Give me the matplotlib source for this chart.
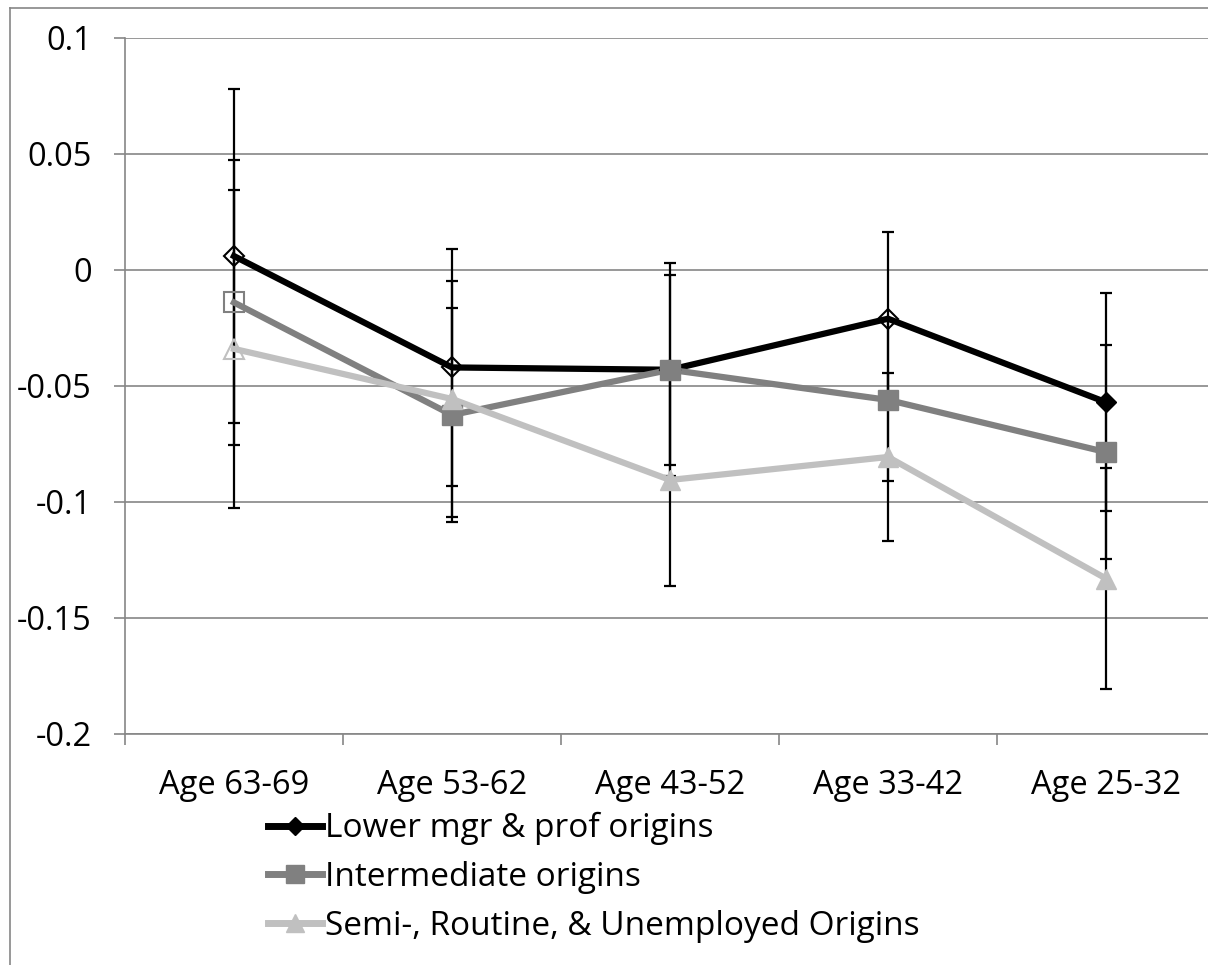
import matplotlib
matplotlib.use('Agg')
import matplotlib.pyplot as plt
from matplotlib.lines import Line2D
import numpy as np

plt.rcParams['font.family'] = ['Open Sans', 'DejaVu Sans']
plt.rcParams['axes.unicode_minus'] = False

# Data
age_groups = ['Age 63-69', 'Age 53-62', 'Age 43-52', 'Age 33-42', 'Age 25-32']
y_ticks = [0.1, 0.05, 0, -0.05, -0.1, -0.15, -0.2]
y_tick_labels = ['0.1', '0.05', '0', '-0.05', '-0.1', '-0.15', '-0.2']

lower_mgr = [0.006, -0.042, -0.043, -0.021, -0.057]
lower_mgr_err = [0.072, 0.051, 0.046, 0.0375, 0.047]
intermediate = [-0.014, -0.0625, -0.043, -0.056, -0.0785]
intermediate_err = [0.0615, 0.046, 0.041, 0.035, 0.046]
semi_routine = [-0.034, -0.0556, -0.0905, -0.0806, -0.133]
semi_routine_err = [0.0685, 0.051, 0.0455, 0.0364, 0.0476]

# filled marker = interval excludes zero
series = [
    ('Lower mgr & prof origins', lower_mgr, lower_mgr_err, '#000000', 'D', 10),
    ('Intermediate origins', intermediate, intermediate_err, '#808080', 's', 14),
    ('Semi-, Routine, & Unemployed Origins', semi_routine, semi_routine_err, '#c0c0c0', '^', 15),
]

fig = plt.figure(figsize=(12.08, 9.65), dpi=100)
ax = fig.add_axes([125/1208, 1 - 734/965, 1090/1208, 696/965])

x = np.arange(len(age_groups))
grid_col = '#868686'

for name, vals, err, col, mk, ms in series:
    vals = np.array(vals)
    err = np.array(err)
    ax.errorbar(x, vals, yerr=err, fmt='none', ecolor='black', elinewidth=1.6,
                capsize=4.5, capthick=1.6, zorder=3)
    ax.plot(x, vals, color=col, linewidth=4.5, zorder=4)
    sig = np.abs(vals) > err
    ax.plot(x[sig], vals[sig], linestyle='none', marker=mk, markersize=ms,
            markerfacecolor=col, markeredgecolor=col, zorder=5)
    ax.plot(x[~sig], vals[~sig], linestyle='none', marker=mk, markersize=ms,
            markerfacecolor='none', markeredgecolor=col, markeredgewidth=1.5, zorder=5)

ax.set_xlim(-0.5, len(age_groups) - 0.5)
ax.set_ylim(-0.2, 0.1)
ax.set_yticks(y_ticks)
ax.set_yticklabels(y_tick_labels)
ax.set_xticks(x)
ax.set_xticklabels(age_groups)
ax.set_xticks(np.arange(len(age_groups) + 1) - 0.5, minor=True)

ax.grid(axis='y', color=grid_col, linewidth=1.2, zorder=0)
ax.set_axisbelow(True)
for s in ['top', 'right']:
    ax.spines[s].set_visible(False)
for s in ['left', 'bottom']:
    ax.spines[s].set_color(grid_col)
    ax.spines[s].set_linewidth(1.2)

ax.tick_params(axis='y', length=8, width=1.2, color=grid_col, pad=16, labelsize=23.5)
ax.tick_params(axis='x', which='major', length=0, pad=25, labelsize=23.5)
ax.tick_params(axis='x', which='minor', length=8, width=1.2, color=grid_col)

# Legend
handles = [Line2D([0], [0], color=col, linewidth=5, marker=mk, markersize=ms * 0.9,
                  markerfacecolor=col, markeredgecolor=col)
           for name, vals, err, col, mk, ms in series]
labels = [s[0] for s in series]
fig.legend(handles, labels, loc='upper left', bbox_to_anchor=(268/1208, 1 - 812/965),
           frameon=False, fontsize=24, handlelength=1.62, handletextpad=0.1,
           labelspacing=0.47, borderpad=0, borderaxespad=0)

# outer chart border (cropped)
fig.add_artist(Line2D([10/1208, 10/1208], [0, 1 - 8/965], color=grid_col, linewidth=1.2,
                      transform=fig.transFigure))
fig.add_artist(Line2D([10/1208, 1], [1 - 8/965, 1 - 8/965], color=grid_col, linewidth=1.2,
                      transform=fig.transFigure))

fig.savefig('out.png', dpi=100)
